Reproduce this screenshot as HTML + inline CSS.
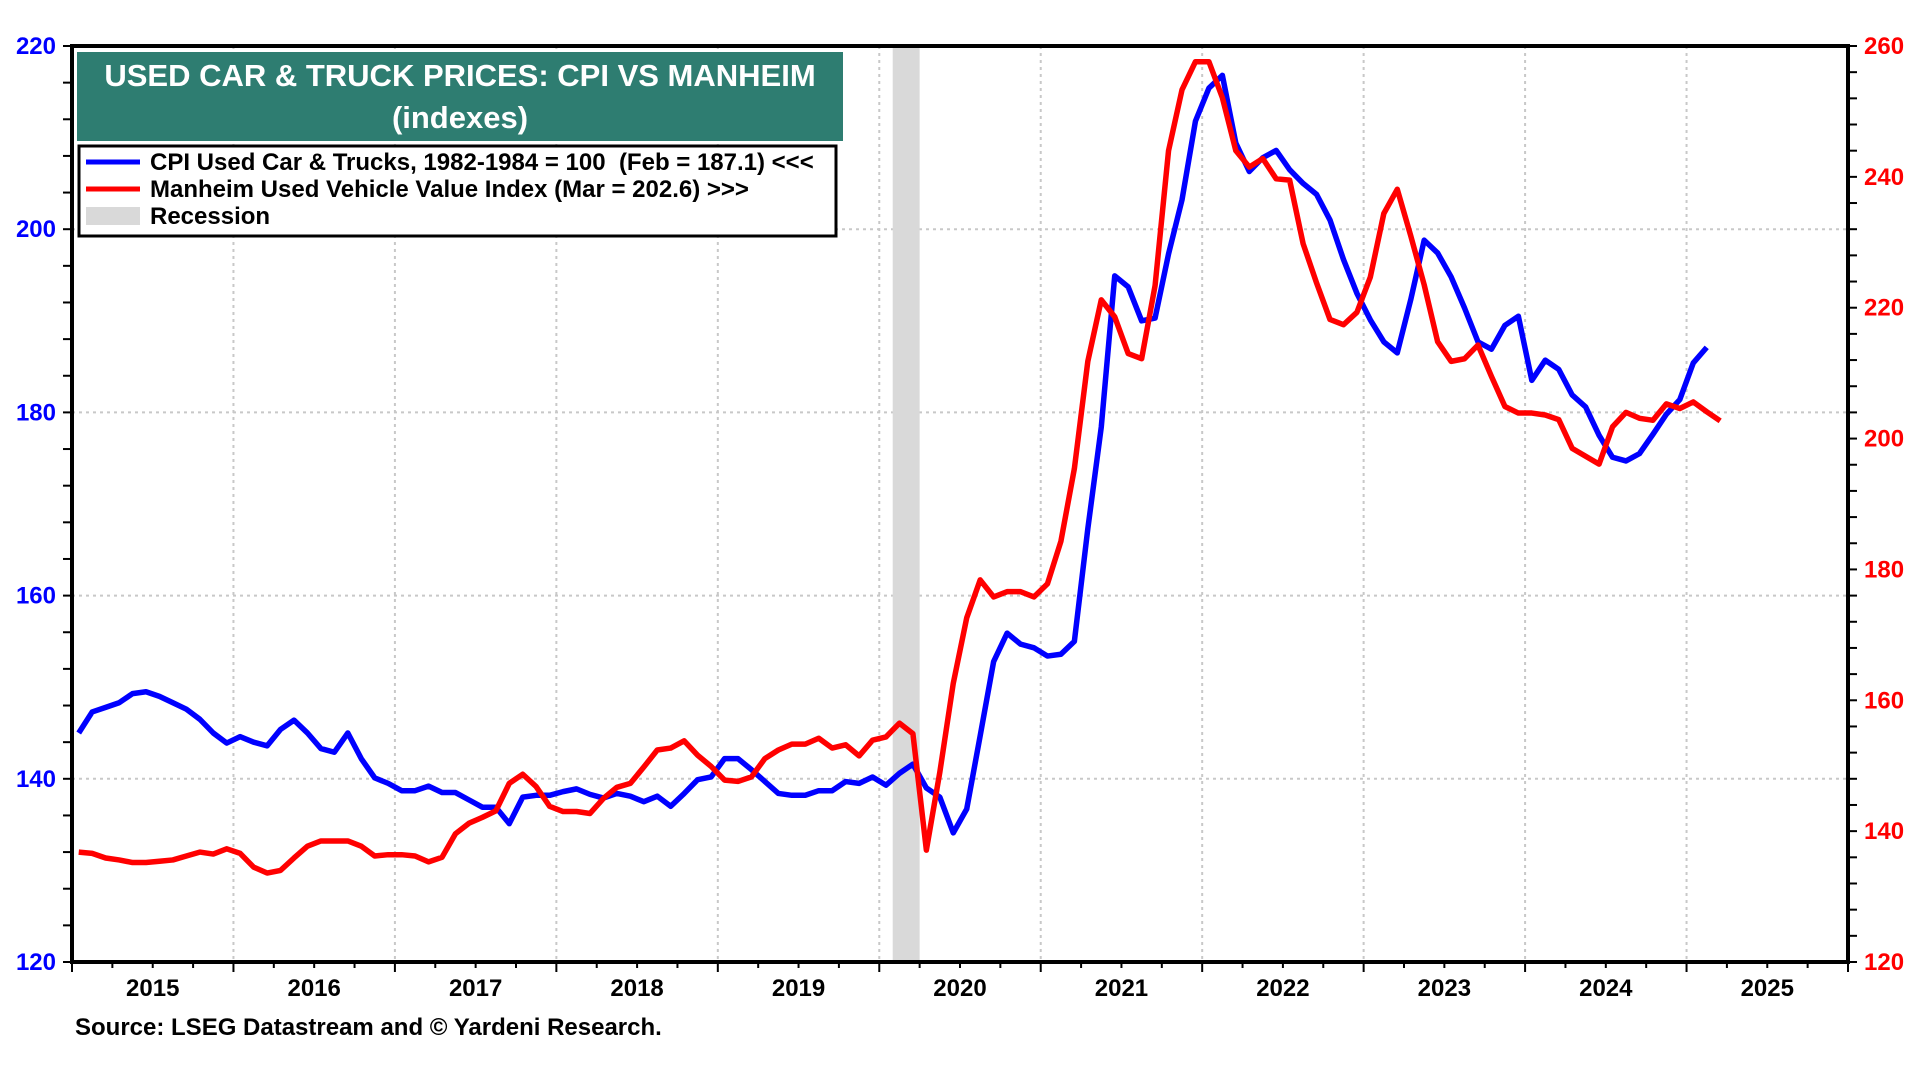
<!DOCTYPE html>
<html><head><meta charset="utf-8"><style>
html,body{margin:0;padding:0;background:#fff;}
svg text{font-family:"Liberation Sans",Arial,sans-serif;font-weight:bold;}
</style></head><body>
<svg id="chart" width="1920" height="1080" viewBox="0 0 1920 1080" xmlns="http://www.w3.org/2000/svg">
<g id="grid"></g>
<rect id="recession" fill="#d9d9d9"></rect>
<g id="series"></g>
<g id="axes"></g>
<g>
<rect x="77" y="52" width="766" height="89" fill="#2e7d71"/>
<text x="460" y="86" fill="#fff" font-size="31" text-anchor="middle">USED CAR &amp; TRUCK PRICES: CPI VS MANHEIM</text>
<text x="460" y="128" fill="#fff" font-size="31" text-anchor="middle">(indexes)</text>
</g>
<g>
<rect x="79" y="146" width="757" height="90" fill="#fff" stroke="#000" stroke-width="3"/>
<line x1="86" y1="162" x2="140" y2="162" stroke="#0000ff" stroke-width="5"/>
<text x="150" y="170" font-size="24">CPI Used Car &amp; Trucks, 1982-1984 = 100 &#160;(Feb = 187.1) &lt;&lt;&lt;</text>
<line x1="86" y1="189" x2="140" y2="189" stroke="#ff0000" stroke-width="5"/>
<text x="150" y="197" font-size="24">Manheim Used Vehicle Value Index (Mar = 202.6) &gt;&gt;&gt;</text>
<rect x="86" y="207" width="54" height="18" fill="#d9d9d9"/>
<text x="150" y="224" font-size="24">Recession</text>
</g>
<text x="75" y="1035" font-size="24">Source: LSEG Datastream and © Yardeni Research.</text>
</svg>
<script>
const cpi = [145.0,147.3,147.8,148.3,149.3,149.5,149.0,148.3,147.6,146.5,145.0,143.9,
144.6,144.0,143.6,145.4,146.4,145.0,143.3,142.9,145.0,142.2,140.1,139.5,
138.7,138.7,139.2,138.5,138.5,137.7,136.9,136.9,135.1,138.0,138.2,138.2,
138.6,138.9,138.3,137.9,138.4,138.1,137.5,138.1,137.0,138.4,139.9,140.2,
142.2,142.2,141.0,139.7,138.4,138.2,138.2,138.7,138.7,139.7,139.5,140.2,
139.3,140.6,141.6,139.0,138.0,134.1,136.7,144.7,152.8,155.9,154.7,154.3,
153.4,153.6,155.0,167.3,178.4,194.9,193.7,190.0,190.3,197.3,203.2,211.8,
215.4,216.8,209.4,206.3,207.8,208.6,206.5,205.0,203.8,201.0,196.7,193.0,
190.1,187.7,186.5,192.3,198.8,197.4,194.8,191.4,187.7,186.9,189.5,190.5,
183.5,185.7,184.7,181.9,180.6,177.5,175.1,174.7,175.5,177.6,179.8,181.4,
185.4,187.1];
const manheim = [136.8,136.6,135.9,135.6,135.2,135.2,135.4,135.6,136.2,136.8,136.5,137.3,
136.6,134.5,133.6,134.0,135.9,137.7,138.5,138.5,138.5,137.7,136.2,136.4,
136.4,136.2,135.3,136.0,139.6,141.2,142.1,143.1,147.3,148.7,146.8,143.8,
143.0,143.0,142.7,145.0,146.7,147.3,149.8,152.4,152.7,153.8,151.6,149.9,
147.8,147.6,148.3,151.1,152.4,153.3,153.3,154.2,152.7,153.2,151.5,153.9,
154.4,156.5,154.9,137.1,149.0,162.6,172.6,178.4,175.8,176.6,176.6,175.8,
177.8,184.3,195.4,211.8,221.2,218.6,213.0,212.2,223.4,244.0,253.3,257.6,
257.6,252.1,244.0,241.5,242.8,239.7,239.5,229.8,223.8,218.2,217.4,219.3,
224.7,234.4,238.1,231.0,223.5,214.8,211.8,212.2,214.3,209.5,204.9,203.9,
203.9,203.6,202.9,198.5,197.3,196.1,201.8,204.0,203.1,202.8,205.3,204.6,
205.6,204.1,202.7];
const leftTicks = [120,140,160,180,200,220];
const rightTicks = [120,140,160,180,200,220,240,260];
const yearLabels = ["2015","2016","2017","2018","2019","2020","2021","2022","2023","2024","2025"];
const startYear = 2015;
const recession = [2020+1/12, 2020+3/12];

const X0=72, X1=1848, Y0=46, Y1=962;
const NS="http://www.w3.org/2000/svg";
function xT(t){return X0+(t-startYear)/11*(X1-X0);}
function xM(i){return xT(startYear+(i+0.5)/12);}
function yL(v){return Y1-(v-120)/100*(Y1-Y0);}
function yR(v){return Y1-(v-120)/140*(Y1-Y0);}
function mk(tag,attrs,parent){const e=document.createElementNS(NS,tag);for(const k in attrs)e.setAttribute(k,attrs[k]);parent.appendChild(e);return e;}

const grid=document.getElementById('grid');
for(const v of leftTicks){ if(v===120||v===220)continue;
  const l=mk('line',{x1:X0,x2:X1,y1:yL(v),y2:yL(v),stroke:'#c8c8c8','stroke-width':2,'stroke-dasharray':'3,4'},grid);
  
  
}
for(let k=1;k<11;k++){
  const l=mk('line',{x1:xT(startYear+k),x2:xT(startYear+k),y1:Y0,y2:Y1,stroke:'#c8c8c8','stroke-width':2,'stroke-dasharray':'3,4'},grid);
  
  
}
const rb=document.getElementById('recession');
rb.setAttribute('x',xT(recession[0]));rb.setAttribute('width',xT(recession[1])-xT(recession[0]));
rb.setAttribute('y',Y0);rb.setAttribute('height',Y1-Y0);

const ser=document.getElementById('series');
const pc=mk('polyline',{points:cpi.map((v,i)=>xM(i)+','+yL(v)).join(' '),fill:'none',stroke:'#0000ff','stroke-width':5.5,'stroke-linejoin':'round'},ser);


const pm=mk('polyline',{points:manheim.map((v,i)=>xM(i)+','+yR(v)).join(' '),fill:'none',stroke:'#ff0000','stroke-width':5.5,'stroke-linejoin':'round'},ser);



const ax=document.getElementById('axes');
const fr=mk('rect',{x:X0,y:Y0,width:X1-X0,height:Y1-Y0,fill:'none',stroke:'#000','stroke-width':4},ax);


for(let v=120;v<=220;v+=4){mk('line',{x1:X0-9,x2:X0,y1:yL(v),y2:yL(v),stroke:'#000','stroke-width':2},ax);}
for(let v=120;v<=260;v+=4){mk('line',{x1:X1,x2:X1+9,y1:yR(v),y2:yR(v),stroke:'#000','stroke-width':2},ax);}
for(let q=0;q<=44;q++){mk('line',{x1:xT(startYear+q/4),x2:xT(startYear+q/4),y1:Y1,y2:Y1+(q%4?6:10),stroke:'#000','stroke-width':2},ax);}
for(const v of leftTicks){
  const t=mk('text',{x:X0-16,y:yL(v)+8,'text-anchor':'end','font-size':24,fill:'#0000ff'},ax);t.textContent=v;
  
  
}
for(const v of rightTicks){
  const t=mk('text',{x:X1+16,y:yR(v)+8,'text-anchor':'start','font-size':24,fill:'#ff0000'},ax);t.textContent=v;
  
  
}
yearLabels.forEach((lab,k)=>{
  const t=mk('text',{x:xT(startYear+k+0.5),y:996,'text-anchor':'middle','font-size':24,fill:'#000'},ax);t.textContent=lab;
  
  
});
</script>
</body></html>
